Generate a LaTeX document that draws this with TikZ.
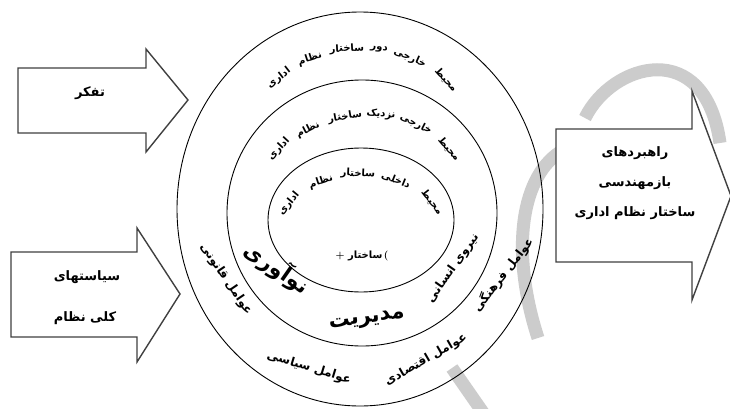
\documentclass[tikz,border=0pt]{standalone}
\usepackage{fontspec}
\newfontfamily\fa[Script=Arabic]{DejaVu Sans}
\TeXXeTstate=1
\usetikzlibrary{shapes.geometric}
\begin{document}
\begin{tikzpicture}[x=1pt,y=1pt,
  ring/.style={draw=black, line width=0.9pt, ellipse, inner sep=0pt},
  arrowshape/.style={draw=black!75, line width=1.4pt, fill=white, line join=miter},
  wm/.style={draw=black!20, line width=13pt},
  lab/.style={font=\fa\bfseries\fontsize{10}{12}\selectfont, inner sep=0pt},
  big/.style={font=\fa\bfseries\fontsize{21}{24}\selectfont, inner sep=0pt},
  mid/.style={font=\fa\bfseries\fontsize{12}{14}\selectfont, inner sep=0pt},
  ctr/.style={font=\fa\bfseries\fontsize{10}{12}\selectfont, inner sep=0pt},
  box/.style={font=\fa\bfseries\fontsize{13}{15}\selectfont, inner sep=0pt, align=center}
]
\useasboundingbox (0,0) rectangle (730,408);
\fill[white] (0,0) rectangle (730,408);

% watermark (light grey, behind everything)
\draw[wm] (585,290) .. controls (612,345) and (705,372) .. (720,265);
\draw[wm] (560,256) .. controls (518,228) and (512,150) .. (538,70);
\draw[wm] (452,40) -- (484,-6);

% rings
\node[ring, minimum width=366pt, minimum height=394pt] (outer) at (360,199) {};
\node[ring, minimum width=270pt, minimum height=266pt] (middle) at (362,195) {};
\node[ring, minimum width=186pt, minimum height=144pt] (inner) at (361,188) {};

% left arrows
\draw[arrowshape] (18,340) -- (146,340) -- (146,359) -- (188,308) -- (146,256) -- (146,275) -- (18,275) -- cycle;
\node[box] (tafakkor) at (90,315) {\beginR تفکر\endR};
\draw[arrowshape] (11,156) -- (137,156) -- (137,180) -- (180,114) -- (137,46) -- (137,71) -- (11,71) -- cycle;
\node[box] (siasat1) at (87,131) {\beginR سیاستهای\endR};
\node[box] (siasat2) at (85,90) {\beginR کلی نظام\endR};
% right arrow
\draw[arrowshape] (556,279) -- (692,279) -- (692,317) -- (731,212) -- (692,108) -- (692,146) -- (556,146) -- cycle;
\node[box] (rah1) at (635,255) {\beginR راهبردهای\endR};
\node[box] (rah2) at (635,225) {\beginR بازمهندسی\endR};
\node[box] (rah3) at (635,195) {\beginR ساختار نظام اداری\endR};

% outer label
\node[lab, rotate=-48] (o1) at (446,328) {\beginR محیط\endR};
\node[lab, rotate=-24] (o2) at (410,350) {\beginR خارجی\endR};
\node[lab, rotate=-8] (o3) at (379,359) {\beginR دور\endR};
\node[lab, rotate=3] (o4) at (347,359) {\beginR ساختار\endR};
\node[lab, rotate=18] (o5) at (310,349) {\beginR نظام\endR};
\node[lab, rotate=38] (o6) at (279,330) {\beginR اداری\endR};
% middle label
\node[lab, rotate=-50] (m1) at (449,259) {\beginR محیط\endR};
\node[lab, rotate=-27] (m2) at (416,284) {\beginR خارجی\endR};
\node[lab, rotate=-6] (m3) at (381,294) {\beginR نزدیک\endR};
\node[lab, rotate=10] (m4) at (345,291) {\beginR ساختار\endR};
\node[lab, rotate=27] (m5) at (308,278) {\beginR نظام\endR};
\node[lab, rotate=47] (m6) at (279,259) {\beginR اداری\endR};
% inner label
\node[lab, rotate=-52] (i1) at (432,206) {\beginR محیط\endR};
\node[lab, rotate=-22] (i2) at (396,228) {\beginR داخلی\endR};
\node[lab, rotate=-3] (i3) at (358,234) {\beginR ساختار\endR};
\node[lab, rotate=18] (i4) at (321,226) {\beginR نظام\endR};
\node[lab, rotate=50] (i5) at (289,204) {\beginR اداری\endR};

% centre
\node[ctr] (center) at (359,152) {{\normalfont\bfseries +}\ \beginR ساختار\endR};
\node[font=\normalfont\bfseries\fontsize{10}{12}\selectfont, inner sep=0pt, anchor=west] (paren) at ([xshift=1pt]center.east) {(};

% band labels
\node[big, rotate=-35] (noavari) at (277,140) {\beginR نوآوری\endR};
\node[big, rotate=8] (modiriat) at (367,87) {\beginR مدیریت\endR};
\node[mid, rotate=55] (niru) at (453,140) {\beginR نیروی انسانی\endR};
\node[mid, rotate=-56] (ghanuni) at (226,129) {\beginR عوامل قانونی\endR};
\node[mid, rotate=-17] (siasi) at (309,40) {\beginR عوامل سیاسی\endR};
\node[mid, rotate=30] (eghtesadi) at (426,48) {\beginR عوامل اقتصادی\endR};
\node[mid, rotate=52] (farhangi) at (503,133) {\beginR عوامل فرهنگی\endR};
\end{tikzpicture}
\end{document}
